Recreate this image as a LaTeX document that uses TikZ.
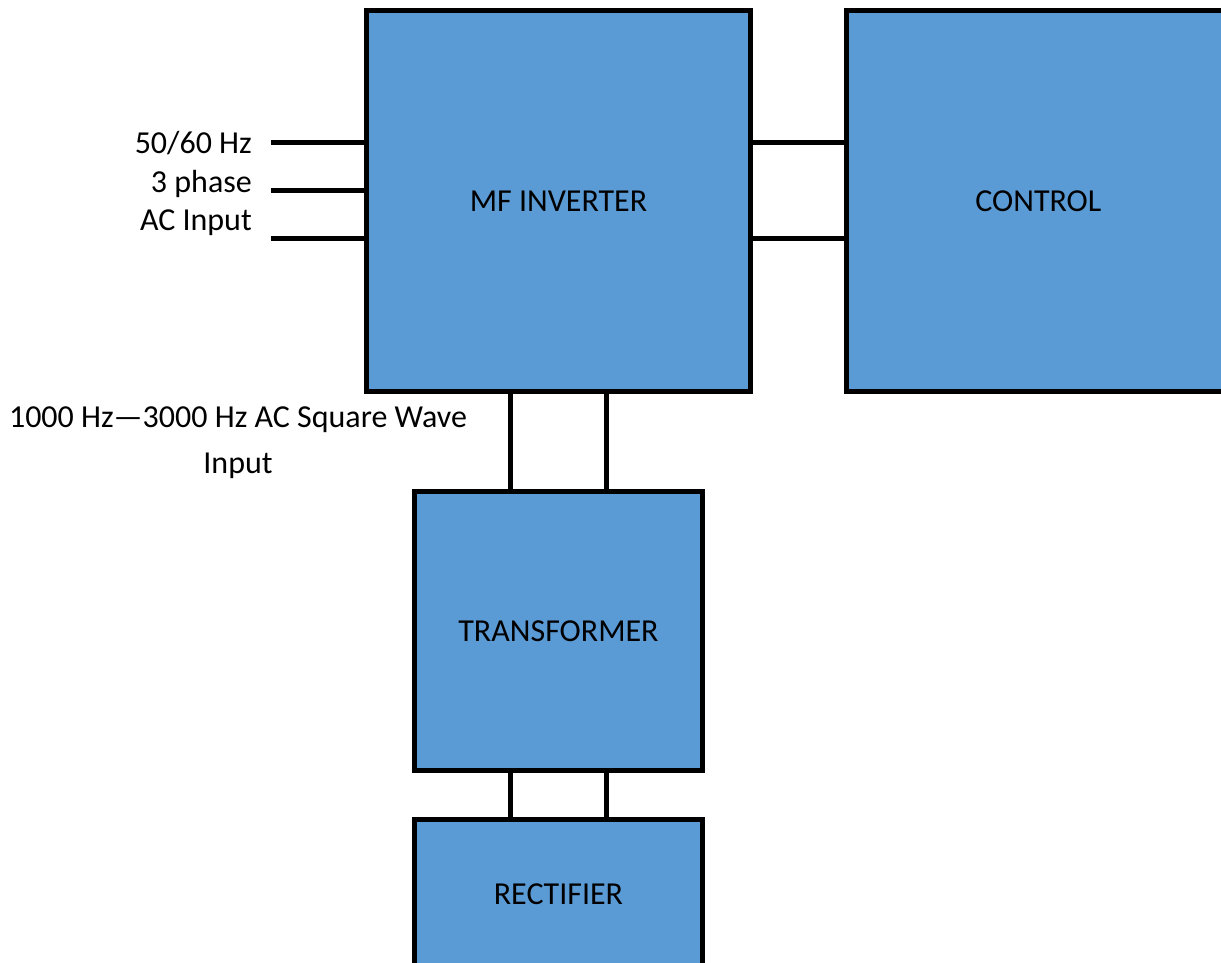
\documentclass[tikz,border=0pt]{standalone}
\usepackage{fontspec}
\setmainfont{Carlito}
\usetikzlibrary{positioning}
\definecolor{boxblue}{HTML}{5B9BD5}
\begin{document}
\begin{tikzpicture}[x=1pt,y=-1pt]
    % Define Styles
        \tikzstyle{block} = [rectangle, draw, fill=boxblue, text centered, line width=5pt, outer sep=0pt, font=\fontsize{32}{38}\selectfont]
        \tikzstyle{wire} = [draw, line width=5pt]
        \tikzstyle{note} = [inner sep=0pt, font=\fontsize{32}{38}\selectfont]
        \useasboundingbox (0,0) rectangle (1221,962);
        \clip (0,0) rectangle (1221,962);
    % Place nodes
        \node [block, minimum width=384pt, minimum height=380.2pt] (inv) at (558.5,200.9) {MF INVERTER};
        \node [block, minimum width=383.3pt, minimum height=380.2pt, right=96.2pt of inv] (ctrl) {CONTROL};
        \node [block, minimum width=287.5pt, minimum height=279.5pt, below=100pt of inv] (trans) {TRANSFORMER};
        \node [block, minimum width=287.5pt, minimum height=148.5pt, below=49pt of trans] (rect) {RECTIFIER};
    % Labels
        \node [note, anchor=base east] (hz) at (252,153) {50/60 Hz};
        \node [note, anchor=base east] (phase) at (252,192) {3 phase};
        \node [note, anchor=base east] (acin) at (252,230) {AC Input};
        \node [note, anchor=base] (square) at (238,427) {1000 Hz—3000 Hz AC Square Wave};
        \node [note, anchor=base] (sqin) at (238,473) {Input};
    % Edges
        \coordinate (in1) at (270.7,142.5);
        \coordinate (in2) at (270.7,190.5);
        \coordinate (in3) at (270.7,238.3);
        \coordinate (tapA) at (510.7,0);
        \coordinate (tapB) at (606.5,0);
        \draw[wire] (in1) -- (in1 -| inv.west);
        \draw[wire] (in2) -- (in2 -| inv.west);
        \draw[wire] (in3) -- (in3 -| inv.west);
        \draw[wire] (inv.east |- in1) -- (ctrl.west |- in1);
        \draw[wire] (inv.east |- in3) -- (ctrl.west |- in3);
        \draw[wire] (inv.south -| tapA) -- (trans.north -| tapA);
        \draw[wire] (inv.south -| tapB) -- (trans.north -| tapB);
        \draw[wire] (trans.south -| tapA) -- (rect.north -| tapA);
        \draw[wire] (trans.south -| tapB) -- (rect.north -| tapB);
\end{tikzpicture}
\end{document}
